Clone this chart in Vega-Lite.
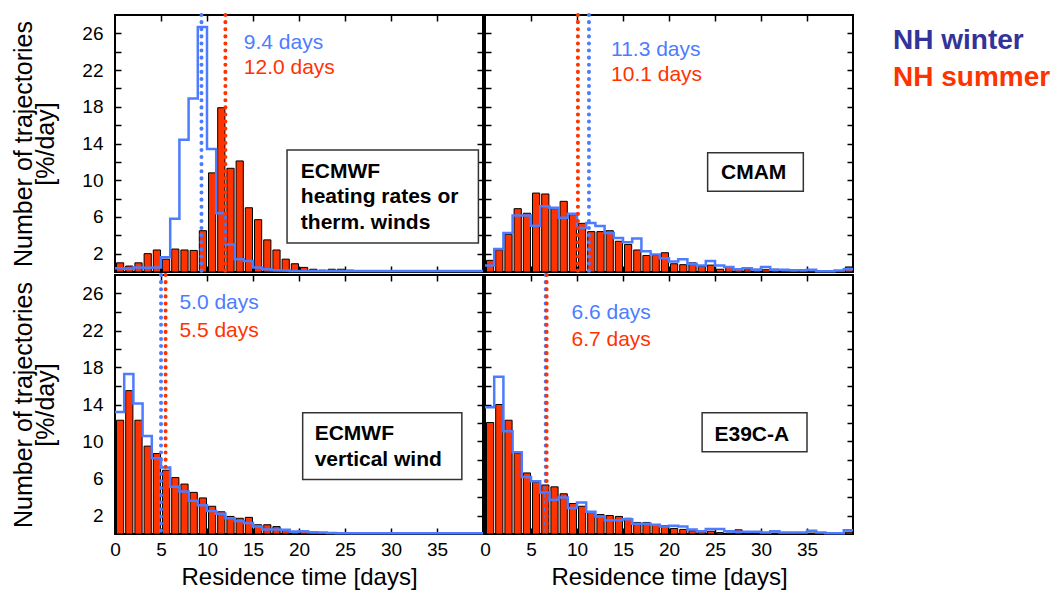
{
  "$schema": "https://vega.github.io/schema/vega-lite/v6.json",
  "background": "white",
  "padding": {"left": 10, "top": 12, "right": 0, "bottom": 0},
  "datasets": {
    "hist": [
      {"p":"TL","d":0,"s":1.0,"w":0.4},{"p":"TL","d":1,"s":0.65,"w":0.35},{"p":"TL","d":2,"s":1.0,"w":0.5},{"p":"TL","d":3,"s":2.0,"w":0.45},{"p":"TL","d":4,"s":2.4,"w":0.5},
      {"p":"TL","d":5,"s":1.4,"w":1.6},{"p":"TL","d":6,"s":2.5,"w":5.8},{"p":"TL","d":7,"s":2.4,"w":14.4},{"p":"TL","d":8,"s":2.35,"w":18.9},{"p":"TL","d":9,"s":4.5,"w":26.7},
      {"p":"TL","d":10,"s":10.8,"w":13.4},{"p":"TL","d":11,"s":17.9,"w":6.4},{"p":"TL","d":12,"s":11.3,"w":3.0},{"p":"TL","d":13,"s":12.1,"w":1.4},{"p":"TL","d":14,"s":7.0,"w":1.2},
      {"p":"TL","d":15,"s":5.7,"w":0.5},{"p":"TL","d":16,"s":3.5,"w":0.3},{"p":"TL","d":17,"s":2.4,"w":0.2},{"p":"TL","d":18,"s":1.4,"w":0.15},{"p":"TL","d":19,"s":0.9,"w":0.1},
      {"p":"TL","d":20,"s":0.5,"w":0.1},{"p":"TL","d":21,"s":0.3,"w":0.1},{"p":"TL","d":22,"s":0.2,"w":0.1},{"p":"TL","d":23,"s":0.3,"w":0.1},{"p":"TL","d":24,"s":0.3,"w":0.1},
      {"p":"TL","d":25,"s":0.2,"w":0.1},{"p":"TL","d":26,"s":0.1,"w":0.1},{"p":"TL","d":27,"s":0.1,"w":0.1},{"p":"TL","d":28,"s":0.05,"w":0.1},{"p":"TL","d":29,"s":0.05,"w":0.1},
      {"p":"TL","d":30,"s":0.05,"w":0.1},{"p":"TL","d":31,"s":0.05,"w":0.1},{"p":"TL","d":32,"s":0.05,"w":0.1},{"p":"TL","d":33,"s":0.05,"w":0.1},{"p":"TL","d":34,"s":0.05,"w":0.1},
      {"p":"TL","d":35,"s":0.05,"w":0.1},{"p":"TL","d":36,"s":0.05,"w":0.1},{"p":"TL","d":37,"s":0.05,"w":0.1},{"p":"TL","d":38,"s":0.05,"w":0.1},{"p":"TL","d":39,"s":0.05,"w":0.1},
      {"p":"TL","d":40,"s":null,"w":0.1},

      {"p":"TR","d":0,"s":1.27,"w":0.7},{"p":"TR","d":1,"s":2.4,"w":2.5},{"p":"TR","d":2,"s":4.1,"w":4.25},{"p":"TR","d":3,"s":6.9,"w":6.15},{"p":"TR","d":4,"s":6.4,"w":6.15},
      {"p":"TR","d":5,"s":8.6,"w":5.05},{"p":"TR","d":6,"s":8.5,"w":7.15},{"p":"TR","d":7,"s":6.9,"w":7.0},{"p":"TR","d":8,"s":7.7,"w":5.9},{"p":"TR","d":9,"s":6.25,"w":6.35},
      {"p":"TR","d":10,"s":5.3,"w":4.8},{"p":"TR","d":11,"s":4.4,"w":5.35},{"p":"TR","d":12,"s":4.4,"w":5.0},{"p":"TR","d":13,"s":4.5,"w":4.25},{"p":"TR","d":14,"s":3.35,"w":3.7},
      {"p":"TR","d":15,"s":3.0,"w":3.25},{"p":"TR","d":16,"s":2.4,"w":3.65},{"p":"TR","d":17,"s":1.8,"w":2.25},{"p":"TR","d":18,"s":1.8,"w":1.9},{"p":"TR","d":19,"s":2.1,"w":1.5},
      {"p":"TR","d":20,"s":0.9,"w":1.15},{"p":"TR","d":21,"s":0.8,"w":1.4},{"p":"TR","d":22,"s":1.0,"w":0.9},{"p":"TR","d":23,"s":0.6,"w":0.7},{"p":"TR","d":24,"s":0.75,"w":1.2},
      {"p":"TR","d":25,"s":0.3,"w":0.7},{"p":"TR","d":26,"s":0.55,"w":0.55},{"p":"TR","d":27,"s":0.3,"w":0.3},{"p":"TR","d":28,"s":0.25,"w":0.4},{"p":"TR","d":29,"s":0.3,"w":0.25},
      {"p":"TR","d":30,"s":0.25,"w":0.55},{"p":"TR","d":31,"s":0.3,"w":0.25},{"p":"TR","d":32,"s":0.25,"w":0.25},{"p":"TR","d":33,"s":0.2,"w":0.2},{"p":"TR","d":34,"s":0.15,"w":0.2},
      {"p":"TR","d":35,"s":0.25,"w":0.25},{"p":"TR","d":36,"s":0.15,"w":0.07},{"p":"TR","d":37,"s":0.1,"w":0.07},{"p":"TR","d":38,"s":0.1,"w":0.15},{"p":"TR","d":39,"s":0.55,"w":0.3},
      {"p":"TR","d":40,"s":null,"w":0.3},

      {"p":"BL","d":0,"s":12.3,"w":13.2},{"p":"BL","d":1,"s":15.5,"w":17.3},{"p":"BL","d":2,"s":12.3,"w":14.1},{"p":"BL","d":3,"s":9.5,"w":10.6},{"p":"BL","d":4,"s":8.7,"w":8.2},
      {"p":"BL","d":5,"s":6.9,"w":7.2},{"p":"BL","d":6,"s":6.1,"w":5.1},{"p":"BL","d":7,"s":5.4,"w":4.6},{"p":"BL","d":8,"s":4.5,"w":3.6},{"p":"BL","d":9,"s":3.9,"w":3.1},
      {"p":"BL","d":10,"s":3.0,"w":2.5},{"p":"BL","d":11,"s":2.4,"w":2.2},{"p":"BL","d":12,"s":1.9,"w":1.7},{"p":"BL","d":13,"s":1.7,"w":1.4},{"p":"BL","d":14,"s":1.8,"w":1.2},
      {"p":"BL","d":15,"s":1.0,"w":0.8},{"p":"BL","d":16,"s":1.0,"w":0.5},{"p":"BL","d":17,"s":0.8,"w":0.5},{"p":"BL","d":18,"s":0.45,"w":0.45},{"p":"BL","d":19,"s":0.3,"w":0.25},
      {"p":"BL","d":20,"s":0.3,"w":0.3},{"p":"BL","d":21,"s":0.2,"w":0.2},{"p":"BL","d":22,"s":0.15,"w":0.15},{"p":"BL","d":23,"s":0.05,"w":0.1},{"p":"BL","d":24,"s":0.05,"w":0.07},
      {"p":"BL","d":25,"s":0.03,"w":0.07},{"p":"BL","d":26,"s":0.03,"w":0.07},{"p":"BL","d":27,"s":0.03,"w":0.07},{"p":"BL","d":28,"s":0.02,"w":0.07},{"p":"BL","d":29,"s":0.02,"w":0.07},
      {"p":"BL","d":30,"s":0.02,"w":0.07},{"p":"BL","d":31,"s":0.02,"w":0.07},{"p":"BL","d":32,"s":0.02,"w":0.07},{"p":"BL","d":33,"s":0.02,"w":0.07},{"p":"BL","d":34,"s":0.02,"w":0.07},
      {"p":"BL","d":35,"s":0.02,"w":0.07},{"p":"BL","d":36,"s":0.02,"w":0.07},{"p":"BL","d":37,"s":0.02,"w":0.07},{"p":"BL","d":38,"s":0.02,"w":0.07},{"p":"BL","d":39,"s":0.02,"w":0.07},
      {"p":"BL","d":40,"s":null,"w":0.07},

      {"p":"BR","d":0,"s":12.05,"w":13.7},{"p":"BR","d":1,"s":14.0,"w":17.0},{"p":"BR","d":2,"s":12.3,"w":11.1},{"p":"BR","d":3,"s":8.7,"w":8.85},{"p":"BR","d":4,"s":6.6,"w":6.15},
      {"p":"BR","d":5,"s":5.6,"w":5.7},{"p":"BR","d":6,"s":5.3,"w":4.5},{"p":"BR","d":7,"s":5.1,"w":3.7},{"p":"BR","d":8,"s":4.35,"w":3.95},{"p":"BR","d":9,"s":3.3,"w":2.8},
      {"p":"BR","d":10,"s":3.0,"w":3.4},{"p":"BR","d":11,"s":2.4,"w":2.4},{"p":"BR","d":12,"s":2.1,"w":1.9},{"p":"BR","d":13,"s":2.0,"w":1.5},{"p":"BR","d":14,"s":1.9,"w":1.5},
      {"p":"BR","d":15,"s":1.7,"w":1.6},{"p":"BR","d":16,"s":1.25,"w":1.1},{"p":"BR","d":17,"s":1.25,"w":1.1},{"p":"BR","d":18,"s":1.0,"w":1.0},{"p":"BR","d":19,"s":0.9,"w":0.8},
      {"p":"BR","d":20,"s":0.6,"w":0.9},{"p":"BR","d":21,"s":0.5,"w":0.8},{"p":"BR","d":22,"s":0.35,"w":0.5},{"p":"BR","d":23,"s":0.25,"w":0.3},{"p":"BR","d":24,"s":0.3,"w":0.55},
      {"p":"BR","d":25,"s":0.15,"w":0.55},{"p":"BR","d":26,"s":0.1,"w":0.3},{"p":"BR","d":27,"s":0.45,"w":0.25},{"p":"BR","d":28,"s":0.1,"w":0.25},{"p":"BR","d":29,"s":0.1,"w":0.25},
      {"p":"BR","d":30,"s":0.1,"w":0.15},{"p":"BR","d":31,"s":0.1,"w":0.3},{"p":"BR","d":32,"s":0.1,"w":0.15},{"p":"BR","d":33,"s":0.1,"w":0.15},{"p":"BR","d":34,"s":0.1,"w":0.15},
      {"p":"BR","d":35,"s":0.1,"w":0.35},{"p":"BR","d":36,"s":0.1,"w":0.15},{"p":"BR","d":37,"s":0.05,"w":0.07},{"p":"BR","d":38,"s":0.05,"w":0.07},{"p":"BR","d":39,"s":0.2,"w":0.4},
      {"p":"BR","d":40,"s":null,"w":0.4}
    ],
    "means": [
      {"p":"TL","series":"NH winter","mean":9.4,"label":"9.4 days"},
      {"p":"TL","series":"NH summer","mean":12.0,"label":"12.0 days"},
      {"p":"TR","series":"NH winter","mean":11.3,"label":"11.3 days"},
      {"p":"TR","series":"NH summer","mean":10.1,"label":"10.1 days"},
      {"p":"BL","series":"NH winter","mean":5.0,"label":"5.0 days"},
      {"p":"BL","series":"NH summer","mean":5.5,"label":"5.5 days"},
      {"p":"BR","series":"NH winter","mean":6.6,"label":"6.6 days"},
      {"p":"BR","series":"NH summer","mean":6.7,"label":"6.7 days"}
    ],
    "boxes": [
      {"p":"TL","t":"ECMWF\nheating rates or\ntherm. winds"},
      {"p":"TR","t":"CMAM"},
      {"p":"BL","t":"ECMWF\nvertical wind"},
      {"p":"BR","t":"E39C-A"}
    ]
  },
  "config": {
    "font": "Liberation Sans",
    "view": {"stroke": "#000000", "strokeWidth": 2},
    "axis": {"domain": false, "grid": false, "tickColor": "#000000", "tickWidth": 1.5, "labelColor": "#000000", "titleColor": "#000000", "labelFontSize": 19, "titleFontWeight": "normal", "labelFlush": false, "labelOverlap": false},
    "legend": {"orient": "right", "title": null, "offset": -6, "padding": 12, "symbolSize": 0, "symbolOpacity": 0, "symbolStrokeWidth": 0,
               "labelOffset": 0, "labelFontSize": 28, "labelFontWeight": "bold", "rowPadding": 9, "labelLimit": 400}
  },
  "columns": 2,
  "spacing": {"row": 3, "column": 2},
  "bounds": "flush",
  "concat": [
        {
          "width": 368, "height": 257,
          "resolve": {"axis": {"x": "independent", "y": "independent"}},
          "layer": [
            {"data": {"name": "hist"}, "transform": [{"filter": "datum.p == 'TL'"}],
             "mark": {"type": "bar", "fill": "#ff3300", "stroke": "#000000", "strokeWidth": 1, "binSpacing": 2},
             "encoding": {
               "x": {"field": "d", "type": "quantitative", "bin": {"binned": true, "step": 1}, "scale": {"domain": [0, 40], "nice": false, "zero": false},
                     "axis": {"orient": "bottom", "values": [5,10,15,20,25,30,35], "tickSize": -6, "labels": false, "title": null}},
               "y": {"field": "s", "type": "quantitative", "scale": {"domain": [0, 28], "nice": false},
                     "axis": {"orient": "left", "values": [2,4,6,8,10,12,14,16,18,20,22,24,26], "tickSize": -6, "labelPadding": 18,
                              "labelExpr": "datum.value % 4 == 2 ? datum.label : ''",
                              "title": ["Number of trajectories", "[%/day]"], "titleFontSize": 25, "titleLineHeight": 22, "titlePadding": 23}}
             }},
            {"data": {"name": "hist"}, "transform": [{"filter": "datum.p == 'TL'"}],
             "mark": {"type": "line", "interpolate": "step-after", "stroke": "#4d7cff", "strokeWidth": 2.5},
             "encoding": {
               "x": {"field": "d", "type": "quantitative", "axis": {"orient": "top", "values": [5,10,15,20,25,30,35], "tickSize": -6, "labels": false, "title": null}},
               "y": {"field": "w", "type": "quantitative", "axis": {"orient": "right", "values": [2,4,6,8,10,12,14,16,18,20,22,24,26], "tickSize": -6, "labels": false, "title": null}}
             }},
            {"data": {"name": "means"}, "transform": [{"filter": "datum.p == 'TL'"}],
             "mark": {"type": "rule", "strokeDash": [0.1, 7], "strokeCap": "round", "strokeWidth": 4},
             "encoding": {
               "x": {"field": "mean", "type": "quantitative", "axis": null},
               "color": {"field": "series", "type": "nominal", "scale": {"domain": ["NH winter", "NH summer"], "range": ["#4d7cff", "#ff3300"]},
                         "legend": {"labelColor": {"expr": "datum.value == 'NH winter' ? '#333399' : '#ff3300'"}}}
             }},
            {"data": {"name": "means"}, "transform": [{"filter": "datum.p == 'TL' && datum.series == 'NH winter'"}],
             "mark": {"type": "text", "align": "left", "baseline": "middle", "fontSize": 21, "color": "#4d7cff"},
             "encoding": {"x": {"datum": 14.0, "axis": null}, "y": {"datum": 24.9, "axis": null}, "text": {"field": "label"}}},
            {"data": {"name": "means"}, "transform": [{"filter": "datum.p == 'TL' && datum.series == 'NH summer'"}],
             "mark": {"type": "text", "align": "left", "baseline": "middle", "fontSize": 21, "color": "#ff3300"},
             "encoding": {"x": {"datum": 14.0, "axis": null}, "y": {"datum": 22.2, "axis": null}, "text": {"field": "label"}}},
            {"data": {"name": "boxes"}, "transform": [{"filter": "datum.p == 'TL'"}],
             "mark": {"type": "rect", "fill": "white", "stroke": "#333333", "strokeWidth": 1.5},
             "encoding": {"x": {"datum": 18.7, "axis": null}, "x2": {"datum": 39.5}, "y": {"datum": 13.3, "axis": null}, "y2": {"datum": 3.15}}},
            {"data": {"name": "boxes"}, "transform": [{"filter": "datum.p == 'TL'"}],
             "mark": {"type": "text", "align": "left", "baseline": "alphabetic", "fontSize": 21, "fontWeight": "bold", "lineBreak": "\n", "lineHeight": 25.5, "color": "#000000"},
             "encoding": {"x": {"datum": 20.2, "axis": null}, "y": {"datum": 10.25, "axis": null}, "text": {"field": "t"}}}
          ]
        },
        {
          "width": 368, "height": 257,
          "resolve": {"axis": {"x": "independent", "y": "independent"}},
          "layer": [
            {"data": {"name": "hist"}, "transform": [{"filter": "datum.p == 'TR'"}],
             "mark": {"type": "bar", "fill": "#ff3300", "stroke": "#000000", "strokeWidth": 1, "binSpacing": 2},
             "encoding": {
               "x": {"field": "d", "type": "quantitative", "bin": {"binned": true, "step": 1}, "scale": {"domain": [0, 40], "nice": false, "zero": false},
                     "axis": {"orient": "bottom", "values": [5,10,15,20,25,30,35], "tickSize": -6, "labels": false, "title": null}},
               "y": {"field": "s", "type": "quantitative", "scale": {"domain": [0, 28], "nice": false},
                     "axis": {"orient": "left", "values": [2,4,6,8,10,12,14,16,18,20,22,24,26], "tickSize": -6, "labels": false, "title": null}}
             }},
            {"data": {"name": "hist"}, "transform": [{"filter": "datum.p == 'TR'"}],
             "mark": {"type": "line", "interpolate": "step-after", "stroke": "#4d7cff", "strokeWidth": 2.5},
             "encoding": {
               "x": {"field": "d", "type": "quantitative", "axis": {"orient": "top", "values": [5,10,15,20,25,30,35], "tickSize": -6, "labels": false, "title": null}},
               "y": {"field": "w", "type": "quantitative", "axis": {"orient": "right", "values": [2,4,6,8,10,12,14,16,18,20,22,24,26], "tickSize": -6, "labels": false, "title": null}}
             }},
            {"data": {"name": "means"}, "transform": [{"filter": "datum.p == 'TR'"}],
             "mark": {"type": "rule", "strokeDash": [0.1, 7], "strokeCap": "round", "strokeWidth": 4},
             "encoding": {
               "x": {"field": "mean", "type": "quantitative", "axis": null},
               "color": {"field": "series", "type": "nominal", "scale": {"domain": ["NH winter", "NH summer"], "range": ["#4d7cff", "#ff3300"]},
                         "legend": {"labelColor": {"expr": "datum.value == 'NH winter' ? '#333399' : '#ff3300'"}}}
             }},
            {"data": {"name": "means"}, "transform": [{"filter": "datum.p == 'TR' && datum.series == 'NH winter'"}],
             "mark": {"type": "text", "align": "left", "baseline": "middle", "fontSize": 21, "color": "#4d7cff"},
             "encoding": {"x": {"datum": 13.7, "axis": null}, "y": {"datum": 24.2, "axis": null}, "text": {"field": "label"}}},
            {"data": {"name": "means"}, "transform": [{"filter": "datum.p == 'TR' && datum.series == 'NH summer'"}],
             "mark": {"type": "text", "align": "left", "baseline": "middle", "fontSize": 21, "color": "#ff3300"},
             "encoding": {"x": {"datum": 13.7, "axis": null}, "y": {"datum": 21.5, "axis": null}, "text": {"field": "label"}}},
            {"data": {"name": "boxes"}, "transform": [{"filter": "datum.p == 'TR'"}],
             "mark": {"type": "rect", "fill": "white", "stroke": "#333333", "strokeWidth": 1.5},
             "encoding": {"x": {"datum": 24.2, "axis": null}, "x2": {"datum": 34.6}, "y": {"datum": 13.0, "axis": null}, "y2": {"datum": 8.8}}},
            {"data": {"name": "boxes"}, "transform": [{"filter": "datum.p == 'TR'"}],
             "mark": {"type": "text", "align": "center", "baseline": "alphabetic", "fontSize": 21, "fontWeight": "bold", "color": "#000000"},
             "encoding": {"x": {"datum": 29.2, "axis": null}, "y": {"datum": 10.15, "axis": null}, "text": {"field": "t"}}}
          ]
        },
        {
          "width": 368, "height": 259,
          "resolve": {"axis": {"x": "independent", "y": "independent"}},
          "layer": [
            {"data": {"name": "hist"}, "transform": [{"filter": "datum.p == 'BL'"}],
             "mark": {"type": "bar", "fill": "#ff3300", "stroke": "#000000", "strokeWidth": 1, "binSpacing": 2},
             "encoding": {
               "x": {"field": "d", "type": "quantitative", "bin": {"binned": true, "step": 1}, "scale": {"domain": [0, 40], "nice": false, "zero": false},
                     "axis": {"orient": "bottom", "values": [0,5,10,15,20,25,30,35], "tickSize": -6, "labelPadding": 12, "title": "Residence time [days]", "titleFontSize": 24, "titlePadding": 6}},
               "y": {"field": "s", "type": "quantitative", "scale": {"domain": [0, 28], "nice": false},
                     "axis": {"orient": "left", "values": [2,4,6,8,10,12,14,16,18,20,22,24,26], "tickSize": -6, "labelPadding": 18,
                              "labelExpr": "datum.value % 4 == 2 ? datum.label : ''",
                              "title": ["Number of trajectories", "[%/day]"], "titleFontSize": 25, "titleLineHeight": 22, "titlePadding": 23}}
             }},
            {"data": {"name": "hist"}, "transform": [{"filter": "datum.p == 'BL'"}],
             "mark": {"type": "line", "interpolate": "step-after", "stroke": "#4d7cff", "strokeWidth": 2.5},
             "encoding": {
               "x": {"field": "d", "type": "quantitative", "axis": {"orient": "top", "values": [5,10,15,20,25,30,35], "tickSize": -6, "labels": false, "title": null}},
               "y": {"field": "w", "type": "quantitative", "axis": {"orient": "right", "values": [2,4,6,8,10,12,14,16,18,20,22,24,26], "tickSize": -6, "labels": false, "title": null}}
             }},
            {"data": {"name": "means"}, "transform": [{"filter": "datum.p == 'BL'"}],
             "mark": {"type": "rule", "strokeDash": [0.1, 7], "strokeCap": "round", "strokeWidth": 4},
             "encoding": {
               "x": {"field": "mean", "type": "quantitative", "axis": null},
               "color": {"field": "series", "type": "nominal", "scale": {"domain": ["NH winter", "NH summer"], "range": ["#4d7cff", "#ff3300"]},
                         "legend": {"labelColor": {"expr": "datum.value == 'NH winter' ? '#333399' : '#ff3300'"}}}
             }},
            {"data": {"name": "means"}, "transform": [{"filter": "datum.p == 'BL' && datum.series == 'NH winter'"}],
             "mark": {"type": "text", "align": "left", "baseline": "middle", "fontSize": 21, "color": "#4d7cff"},
             "encoding": {"x": {"datum": 7.0, "axis": null}, "y": {"datum": 25.0, "axis": null}, "text": {"field": "label"}}},
            {"data": {"name": "means"}, "transform": [{"filter": "datum.p == 'BL' && datum.series == 'NH summer'"}],
             "mark": {"type": "text", "align": "left", "baseline": "middle", "fontSize": 21, "color": "#ff3300"},
             "encoding": {"x": {"datum": 7.0, "axis": null}, "y": {"datum": 22.0, "axis": null}, "text": {"field": "label"}}},
            {"data": {"name": "boxes"}, "transform": [{"filter": "datum.p == 'BL'"}],
             "mark": {"type": "rect", "fill": "white", "stroke": "#333333", "strokeWidth": 1.5},
             "encoding": {"x": {"datum": 20.4, "axis": null}, "x2": {"datum": 37.7}, "y": {"datum": 13.1, "axis": null}, "y2": {"datum": 5.9}}},
            {"data": {"name": "boxes"}, "transform": [{"filter": "datum.p == 'BL'"}],
             "mark": {"type": "text", "align": "left", "baseline": "alphabetic", "fontSize": 21, "fontWeight": "bold", "lineBreak": "\n", "lineHeight": 26.5, "color": "#000000"},
             "encoding": {"x": {"datum": 21.7, "axis": null}, "y": {"datum": 10.2, "axis": null}, "text": {"field": "t"}}}
          ]
        },
        {
          "width": 368, "height": 259,
          "resolve": {"axis": {"x": "independent", "y": "independent"}},
          "layer": [
            {"data": {"name": "hist"}, "transform": [{"filter": "datum.p == 'BR'"}],
             "mark": {"type": "bar", "fill": "#ff3300", "stroke": "#000000", "strokeWidth": 1, "binSpacing": 2},
             "encoding": {
               "x": {"field": "d", "type": "quantitative", "bin": {"binned": true, "step": 1}, "scale": {"domain": [0, 40], "nice": false, "zero": false},
                     "axis": {"orient": "bottom", "values": [0,5,10,15,20,25,30,35], "tickSize": -6, "labelPadding": 12, "title": "Residence time [days]", "titleFontSize": 24, "titlePadding": 6}},
               "y": {"field": "s", "type": "quantitative", "scale": {"domain": [0, 28], "nice": false},
                     "axis": {"orient": "left", "values": [2,4,6,8,10,12,14,16,18,20,22,24,26], "tickSize": -6, "labels": false, "title": null}}
             }},
            {"data": {"name": "hist"}, "transform": [{"filter": "datum.p == 'BR'"}],
             "mark": {"type": "line", "interpolate": "step-after", "stroke": "#4d7cff", "strokeWidth": 2.5},
             "encoding": {
               "x": {"field": "d", "type": "quantitative", "axis": {"orient": "top", "values": [5,10,15,20,25,30,35], "tickSize": -6, "labels": false, "title": null}},
               "y": {"field": "w", "type": "quantitative", "axis": {"orient": "right", "values": [2,4,6,8,10,12,14,16,18,20,22,24,26], "tickSize": -6, "labels": false, "title": null}}
             }},
            {"data": {"name": "means"}, "transform": [{"filter": "datum.p == 'BR'"}],
             "mark": {"type": "rule", "strokeDash": [0.1, 7], "strokeCap": "round", "strokeWidth": 4},
             "encoding": {
               "x": {"field": "mean", "type": "quantitative", "axis": null},
               "color": {"field": "series", "type": "nominal", "scale": {"domain": ["NH winter", "NH summer"], "range": ["#4d7cff", "#ff3300"]},
                         "legend": {"labelColor": {"expr": "datum.value == 'NH winter' ? '#333399' : '#ff3300'"}}}
             }},
            {"data": {"name": "means"}, "transform": [{"filter": "datum.p == 'BR' && datum.series == 'NH winter'"}],
             "mark": {"type": "text", "align": "left", "baseline": "middle", "fontSize": 21, "color": "#4d7cff"},
             "encoding": {"x": {"datum": 9.4, "axis": null}, "y": {"datum": 23.9, "axis": null}, "text": {"field": "label"}}},
            {"data": {"name": "means"}, "transform": [{"filter": "datum.p == 'BR' && datum.series == 'NH summer'"}],
             "mark": {"type": "text", "align": "left", "baseline": "middle", "fontSize": 21, "color": "#ff3300"},
             "encoding": {"x": {"datum": 9.4, "axis": null}, "y": {"datum": 21.0, "axis": null}, "text": {"field": "label"}}},
            {"data": {"name": "boxes"}, "transform": [{"filter": "datum.p == 'BR'"}],
             "mark": {"type": "rect", "fill": "white", "stroke": "#333333", "strokeWidth": 1.5},
             "encoding": {"x": {"datum": 23.6, "axis": null}, "x2": {"datum": 35.0}, "y": {"datum": 13.1, "axis": null}, "y2": {"datum": 8.9}}},
            {"data": {"name": "boxes"}, "transform": [{"filter": "datum.p == 'BR'"}],
             "mark": {"type": "text", "align": "center", "baseline": "alphabetic", "fontSize": 21, "fontWeight": "bold", "color": "#000000"},
             "encoding": {"x": {"datum": 29.0, "axis": null}, "y": {"datum": 10.05, "axis": null}, "text": {"field": "t"}}}
          ]
        }
  ]
}
